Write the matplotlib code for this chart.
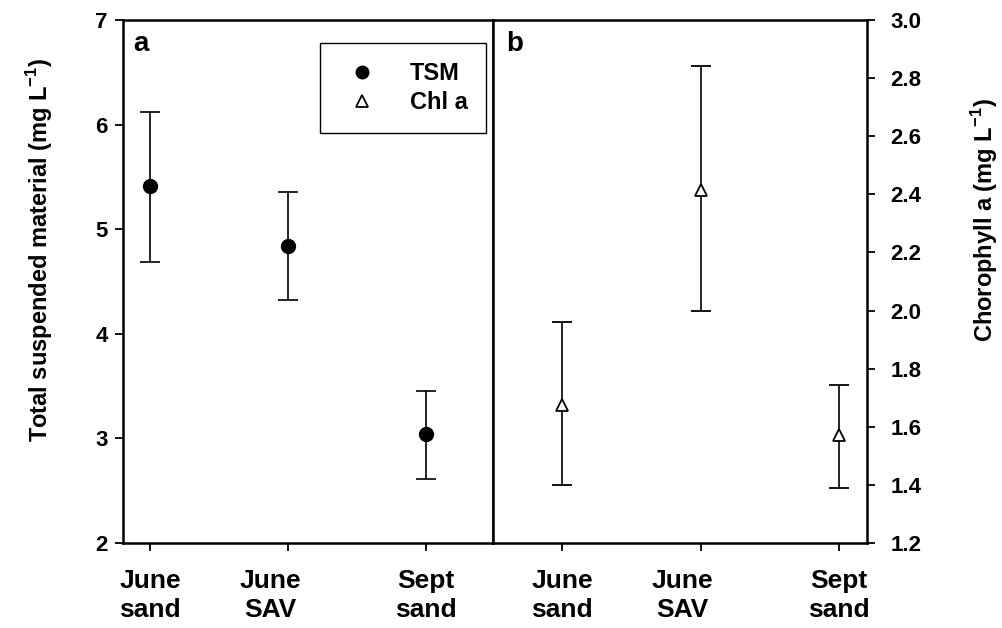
import numpy as np
import matplotlib.pyplot as plt
from matplotlib.lines import Line2D
import matplotlib.transforms as mtransforms

plt.rcParams['font.family'] = ['Liberation Sans', 'DejaVu Sans']
plt.rcParams['font.weight'] = 'bold'
plt.rcParams['mathtext.fontset'] = 'custom'
plt.rcParams['mathtext.rm'] = 'Liberation Sans:bold'
plt.rcParams['mathtext.bf'] = 'Liberation Sans:bold'

# data
sites = ['June\nsand', 'June\nSAV', 'Sept\nsand']
tsm_mean = [5.41, 4.84, 3.04]
tsm_low = [4.69, 4.32, 2.61]
tsm_high = [6.12, 5.36, 3.45]
chl_mean = [1.675, 2.415, 1.57]
chl_low = [1.40, 2.00, 1.39]
chl_high = [1.96, 2.84, 1.745]

x = np.arange(1, 4)

W, H = 1003, 628
fig = plt.figure(figsize=(W / 100, H / 100), dpi=100)

ax1 = fig.add_axes([123 / W, 1 - 543 / H, 370 / W, 523 / H])
ax2 = fig.add_axes([493 / W, 1 - 543 / H, 374 / W, 523 / H])

lw = 1.8
for ax in (ax1, ax2):
    for s in ax.spines.values():
        s.set_linewidth(lw)
    ax.tick_params(axis='both', direction='out', length=6, width=1.3)
    ax.tick_params(axis='x', labelsize=19, pad=13)
    ax.set_xticks(x)
    ax.set_xticklabels(sites, linespacing=1.25)

# panel a - TSM
tsm_err = [np.array(tsm_mean) - np.array(tsm_low), np.array(tsm_high) - np.array(tsm_mean)]
ax1.errorbar(x, tsm_mean, yerr=tsm_err, fmt='o', color='black', ms=10,
             elinewidth=1.2, capsize=7, capthick=1.2)
ax1.set_xlim(0.804, 3.486)
ax1.set_ylim(2, 7)
ax1.set_yticks([2, 3, 4, 5, 6, 7])
ax1.tick_params(axis='y', labelsize=16, pad=5)
ax1.text(0.027, 0.955, 'a', transform=ax1.transAxes, fontsize=20,
         fontweight='bold', va='center', ha='left')

# panel b - Chl a
chl_err = [np.array(chl_mean) - np.array(chl_low), np.array(chl_high) - np.array(chl_mean)]
ax2.errorbar(x, chl_mean, yerr=chl_err, fmt='^', color='black', mfc='white',
             mec='black', mew=1.3, ms=9, elinewidth=1.2, capsize=7, capthick=1.2)
ax2.set_xlim(0.50, 3.20)
ax2.set_ylim(1.2, 3.0)
ax2.set_yticks(np.arange(1.2, 3.01, 0.2))
ax2.set_yticklabels([f'{v:.1f}' for v in np.arange(1.2, 3.01, 0.2)])
ax2.yaxis.tick_right()
ax2.tick_params(axis='y', labelsize=16, pad=11)
ax2.text(0.035, 0.955, 'b', transform=ax2.transAxes, fontsize=20,
         fontweight='bold', va='center', ha='left')

# shift the middle labels a bit left, like the original
off = mtransforms.ScaledTranslation(-18 / 100, 0, fig.dpi_scale_trans)
for ax in (ax1, ax2):
    lab = ax.get_xticklabels()[1]
    lab.set_transform(lab.get_transform() + off)

# axis titles
fig.text(40 / W, 1 - 250 / H, r'Total suspended material (mg L$^{-1}$)',
         rotation=90, ha='center', va='center', fontsize=17, fontweight='bold')
fig.text(985 / W, 1 - 220 / H, r'Chorophyll a (mg L$^{-1}$)',
         rotation=90, ha='center', va='center', fontsize=17, fontweight='bold')

# legend
handles = [
    Line2D([], [], ls='none', marker='o', color='black', ms=9),
    Line2D([], [], ls='none', marker='^', mfc='white', mec='black', mew=1.3, ms=8),
]
leg = ax1.legend(handles, ['TSM', 'Chl a'], loc='upper left',
                 bbox_to_anchor=(320 / W, 1 - 43 / H), bbox_transform=fig.transFigure,
                 borderaxespad=0, borderpad=0.8, handlelength=2, handletextpad=1.0,
                 labelspacing=0.25, fontsize=17, fancybox=False, framealpha=1,
                 edgecolor='black')
leg.get_frame().set_linewidth(1.0)

fig.savefig('out.png', dpi=100)
